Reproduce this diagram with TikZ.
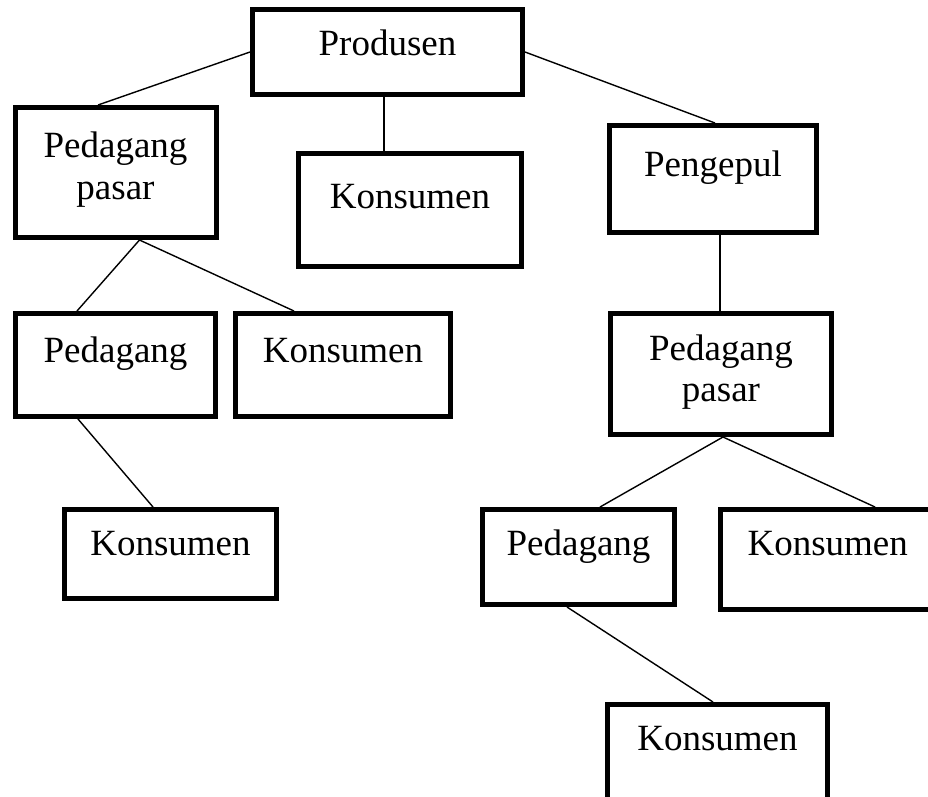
\documentclass[tikz,border=0pt]{standalone}
\usepackage{fontspec}
\setmainfont{Liberation Serif}
\usetikzlibrary{calc}
\begin{document}
\begin{tikzpicture}[x=1pt,y=-1pt,
  box/.style={draw=black, line width=5pt, fill=white, rectangle, inner sep=0pt},
  txt/.style={font=\fontsize{37}{42}\selectfont, anchor=base, align=center, inner sep=0pt},
  link/.style={draw=black, line width=1.4pt}]
\useasboundingbox (0,0) rectangle (928,796);
\clip (0,0) rectangle (928,796);
\fill[white] (0,0) rectangle (928,796);
% boxes
\node[box, minimum width=270pt, minimum height=85pt]  (prod) at (387.5,52) {};
\node[box, minimum width=201pt, minimum height=130pt] (pp1)  at (115.5,172.5) {};
\node[box, minimum width=223pt, minimum height=113pt] (k1)   at (410,210) {};
\node[box, minimum width=207pt, minimum height=107pt] (peng) at (713,179) {};
\node[box, minimum width=200pt, minimum height=103pt] (pd1)  at (115.5,365) {};
\node[box, minimum width=215pt, minimum height=103pt] (k2)   at (343,365) {};
\node[box, minimum width=212pt, minimum height=89pt]  (k3)   at (170.5,554) {};
\node[box, minimum width=221pt, minimum height=121pt] (pp2)  at (721,374) {};
\node[box, minimum width=192pt, minimum height=95pt]  (pd2)  at (578.5,557) {};
\node[box, minimum width=214.5pt, minimum height=100pt] (k4) at (827.75,559.5) {};
\node[box, minimum width=220pt, minimum height=100.5pt] (k5) at (717.5,754.75) {};
% texts
\node[txt] (tprod) at (387.5,55) {Produsen};
\node[txt] (tpp1)  at (115.5,199) {Pedagang\\pasar};
\node[txt] (tk1)   at (410,208) {Konsumen};
\node[txt] (tpeng) at (713,176) {Pengepul};
\node[txt] (tpd1)  at (115.5,362) {Pedagang};
\node[txt] (tk2)   at (343,362) {Konsumen};
\node[txt] (tk3)   at (170.5,555) {Konsumen};
\node[txt, font=\fontsize{37}{41}\selectfont] (tpp2)  at (721,401) {Pedagang\\pasar};
\node[txt] (tpd2)  at (578.5,555) {Pedagang};
\node[txt] (tk4)   at (827.75,555) {Konsumen};
\node[txt] (tk5)   at (717.5,750) {Konsumen};
% connectors
\draw[link] (prod.west) -- ([xshift=-17.5pt]pp1.north);
\draw[link] ([xshift=-3.5pt]prod.south) -- ([xshift=-26pt]k1.north);
\draw[link] (prod.east) -- ([xshift=2pt]peng.north);
\draw[link] ([xshift=24pt]pp1.south) -- ([xshift=-38.5pt]pd1.north);
\draw[link] ([xshift=24pt]pp1.south) -- ([xshift=-49pt]k2.north);
\draw[link] ([xshift=-37.5pt]pd1.south) -- ([xshift=-17.5pt]k3.north);
\draw[link] ([xshift=7pt]peng.south) -- ([xshift=-1pt]pp2.north);
\draw[link] ([xshift=2pt]pp2.south) -- ([xshift=21.5pt]pd2.north);
\draw[link] ([xshift=2pt]pp2.south) -- ([xshift=47.25pt]k4.north);
\draw[link] ([xshift=-11.5pt]pd2.south) -- ([xshift=-4.5pt]k5.north);
\end{tikzpicture}
\end{document}
